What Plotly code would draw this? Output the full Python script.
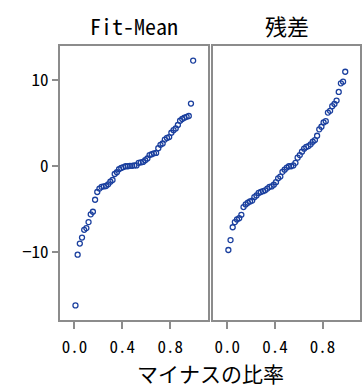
import plotly.graph_objects as go

# Sorted fitted values minus the mean, and sorted residuals
fit_minus_mean = [-16.2, -10.3, -9.0, -8.3, -7.4, -7.2, -6.5, -5.6, -5.3, -3.9,
                  -3.0, -2.6, -2.4, -2.35, -2.3, -2.1, -1.8, -1.6, -0.9, -0.7,
                  -0.35, -0.2, -0.1, 0.0, 0.0, 0.05, 0.05, 0.1, 0.1, 0.4,
                  0.45, 0.5, 0.7, 0.9, 1.3, 1.4, 1.5, 1.55, 2.1, 2.5,
                  2.65, 3.1, 3.3, 3.4, 3.9, 4.2, 4.4, 4.8, 5.3, 5.5,
                  5.65, 5.75, 5.85, 7.3, 12.3]
residuals = [-9.75, -8.6, -7.1, -6.5, -6.2, -6.05, -5.65, -4.75, -4.45, -4.25,
             -4.1, -4.0, -3.6, -3.4, -3.1, -3.0, -2.9, -2.8, -2.6, -2.4,
             -2.35, -2.15, -1.85, -1.4, -1.2, -0.65, -0.4, -0.15, 0.0, 0.0,
             0.1, 0.4, 1.0, 1.3, 1.7, 2.05, 2.25, 2.35, 2.55, 2.85,
             3.05, 3.55, 4.3, 4.6, 5.1, 5.25, 6.25, 6.45, 7.0, 7.25,
             7.65, 8.65, 9.65, 9.85, 11.0]
panel_titles = ["Fit-Mean", "残差"]
x_ticks = [0.0, 0.4, 0.8]
x_ticklabels = ["0.0", "0.4", "0.8"]
y_ticks = [-10, 0, 10]
y_ticklabels = ["\u221210", "0", "10"]

n = len(residuals)
f_value = [(i + 0.5) / n for i in range(n)]

font = "Noto Sans Mono CJK JP, Noto Sans CJK JP"
point_color = "#1a3f9e"
frame_color = "#8c8c8c"

fig = go.Figure()
for k, vals in enumerate([fit_minus_mean, residuals]):
    fig.add_trace(go.Scatter(
        x=f_value, y=vals, mode="markers",
        xaxis="x" if k == 0 else "x2", yaxis="y" if k == 0 else "y2",
        marker=dict(symbol="circle-open", size=5, color=point_color,
                    line=dict(width=1.3, color=point_color)),
        showlegend=False, hoverinfo="skip"))

xcommon = dict(range=[-0.12, 1.115], tickvals=x_ticks, ticktext=x_ticklabels,
               ticks="outside", ticklen=7, tickwidth=2, tickcolor=frame_color,
               ticklabelstandoff=4,
               showline=True, mirror=True, linecolor=frame_color, linewidth=2,
               showgrid=False, zeroline=False,
               tickfont=dict(family=font, size=17, color="black"))
ycommon = dict(range=[-17.9, 14.0], showline=True, mirror=True,
               linecolor=frame_color, linewidth=2, showgrid=False,
               zeroline=False)

fig.update_layout(
    width=363, height=392,
    margin=dict(l=60, r=1, t=46, b=72),
    paper_bgcolor="white", plot_bgcolor="white",
    xaxis=dict(domain=[0, 0.4934], anchor="y", **xcommon),
    xaxis2=dict(domain=[0.51, 1], anchor="y2", **xcommon),
    yaxis=dict(anchor="x", tickvals=y_ticks, ticktext=y_ticklabels,
               ticks="outside", ticklen=6, tickwidth=2, tickcolor=frame_color,
               tickfont=dict(family=font, size=17, color="black"), **ycommon),
    yaxis2=dict(anchor="x2", matches="y", showticklabels=False, ticks="",
                **ycommon),
    annotations=[
        dict(text=panel_titles[0], x=0.2467, y=1, xref="paper", yref="paper",
             xanchor="center", yanchor="bottom", yshift=3, showarrow=False,
             font=dict(family=font, size=22, color="black")),
        dict(text=panel_titles[1], x=0.755, y=1, xref="paper", yref="paper",
             xanchor="center", yanchor="bottom", yshift=3, showarrow=False,
             font=dict(family=font, size=22, color="black")),
        dict(text="マイナスの比率", x=0.5, y=0, xref="paper", yref="paper",
             xanchor="center", yanchor="top", yshift=-36, showarrow=False,
             font=dict(family=font, size=21, color="black")),
    ],
)

fig.write_html("out.html")
